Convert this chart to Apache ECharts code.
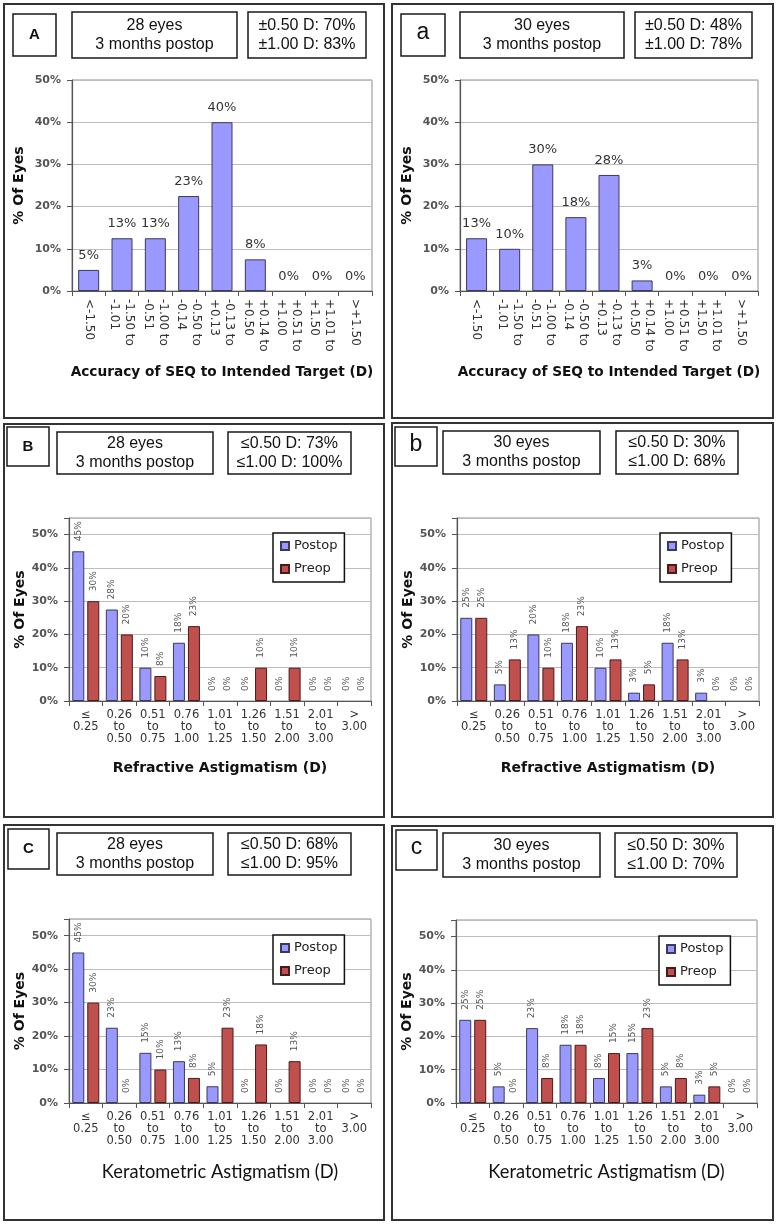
<!DOCTYPE html>
<html><head><meta charset="utf-8">
<script src="https://cdn.jsdelivr.net/npm/echarts@6.0.0/dist/echarts.min.js"></script>
<style>html,body{margin:0;padding:0;background:#fff}#c{width:777px;height:1225px}</style>
</head><body><div id="c"></div><script>
// ---- data ----
const seqCategories = ['<-1.50','-1.50 to\n-1.01','-1.00 to\n-0.51','-0.50 to\n-0.14','-0.13 to\n+0.13','+0.14 to\n+0.50','+0.51 to\n+1.00','+1.01 to\n+1.50','>+1.50'];
const seqA = [5,12.5,12.5,22.5,40,7.5,0,0,0];
const seqa = [12.5,10,30,17.5,27.5,2.5,0,0,0];
const astCategories = ['≤\n0.25','0.26\nto\n0.50','0.51\nto\n0.75','0.76\nto\n1.00','1.01\nto\n1.25','1.26\nto\n1.50','1.51\nto\n2.00','2.01\nto\n3.00','>\n3.00'];
const refBPostop = [45,27.5,10,17.5,0,0,0,0,0];
const refBPreop  = [30,20,7.5,22.5,0,10,10,0,0];
const refbPostop = [25,5,20,17.5,10,2.5,17.5,2.5,0];
const refbPreop  = [25,12.5,10,22.5,12.5,5,12.5,0,0];
const kerCPostop = [45,22.5,15,12.5,5,0,0,0,0];
const kerCPreop  = [30,0,10,7.5,22.5,17.5,12.5,0,0];
const kercPostop = [25,5,22.5,17.5,7.5,15,5,2.5,0];
const kercPreop  = [25,0,7.5,17.5,15,22.5,7.5,5,0];
const seriesNames = ['Postop','Preop'];
const panelLetters = ['A','a','B','b','C','c'];
const eyeTexts = ['28 eyes\n3 months postop','30 eyes\n3 months postop','28 eyes\n3 months postop','30 eyes\n3 months postop','28 eyes\n3 months postop','30 eyes\n3 months postop'];
const accTexts = ['±0.50 D: 70%\n±1.00 D: 83%','±0.50 D: 48%\n±1.00 D: 78%','≤0.50 D: 73%\n≤1.00 D: 100%','≤0.50 D: 30%\n≤1.00 D: 68%','≤0.50 D: 68%\n≤1.00 D: 95%','≤0.50 D: 30%\n≤1.00 D: 70%'];
const xTitles = ['Accuracy of SEQ to Intended Target (D)','Accuracy of SEQ to Intended Target (D)','Refractive Astigmatism (D)','Refractive Astigmatism (D)','Keratometric Astigmatism (D)','Keratometric Astigmatism (D)'];
const yTitle = '% Of Eyes';

// ---- layout ----
const COL_POST = '#9999FF', COL_PRE = '#C0504D';
const layout = [
  {outer:[4,4,380,414], letter:[13,14,43,42], mid:[72,12,165,46], acc:[248,12,118,46], grid:[72,80,300,211], ymax:50, legend:null},
  {outer:[392,4,381,414], letter:[401,14,44,42], mid:[460,12,164,46], acc:[635,12,117,46], grid:[460,80,298,211], ymax:50, legend:null},
  {outer:[4,424,380,393], letter:[7,427,42,39], mid:[57,432,156,42], acc:[228,432,123,42], grid:[69,518,302,183], ymax:55, legend:[273,533]},
  {outer:[392,423,381,394], letter:[395,427,42,39], mid:[443,431,157,43], acc:[616,431,122,43], grid:[457,518,302,183], ymax:55, legend:[660,533]},
  {outer:[4,825,380,395], letter:[8,829,41,40], mid:[57,833,156,42], acc:[228,833,123,42], grid:[69,919,302,184], ymax:55, legend:[273,935]},
  {outer:[392,826,381,394], letter:[396,830,41,40], mid:[443,833,157,44], acc:[615,833,122,44], grid:[456,920,301,183], ymax:55, legend:[659,936]}
];
const panelData = [
  {cats:seqCategories, vals:[seqA]},
  {cats:seqCategories, vals:[seqa]},
  {cats:astCategories, vals:[refBPostop, refBPreop]},
  {cats:astCategories, vals:[refbPostop, refbPreop]},
  {cats:astCategories, vals:[kerCPostop, kerCPreop]},
  {cats:astCategories, vals:[kercPostop, kercPreop]}
];

const grids=[], xAxes=[], yAxes=[], series=[], legends=[], graphics=[];
const F = 'DejaVu Sans';
panelData.forEach((pd, i) => {
  const L = layout[i];
  const seqType = i < 2;
  const kerType = i >= 4;
  grids.push({left:L.grid[0], top:L.grid[1], width:L.grid[2], height:L.grid[3], show:true, borderColor:'#8c8c8c', borderWidth:1});
  xAxes.push({
    type:'category', gridIndex:i, data:pd.cats,
    axisLine:{lineStyle:{color:'#555', width:1.2}},
    axisTick:{show:true, length:5, lineStyle:{color:'#555'}},
    axisLabel:{interval:0, rotate: seqType ? -90 : 0, margin: 8,
      fontFamily:F, fontSize: seqType ? 12 : 11.5, lineHeight: seqType ? 15 : 12, color:'#333'},
    name: xTitles[i], nameLocation:'middle', nameGap: seqType ? 74 : 60,
    nameTextStyle: kerType ? {fontFamily:'Lato', fontSize:18.3, color:'#111'} : {fontFamily:F, fontWeight:'bold', fontSize: seqType ? 13.7 : 14, color:'#111'}
  });
  yAxes.push({
    type:'value', gridIndex:i, min:0, max:L.ymax, interval:10,
    axisLine:{show:true, lineStyle:{color:'#555', width:1.2}},
    axisTick:{show:true, length:5, lineStyle:{color:'#555'}},
    splitLine:{lineStyle:{color:'#bdbdbd'}},
    axisLabel:{fontFamily:F, fontWeight:'bold', fontSize:11, color:'#555', margin:11,
      formatter: v => v > 50 ? '' : v + '%'},
    name: yTitle, nameLocation:'middle', nameGap: seqType ? 46 : 42,
    nameTextStyle:{fontFamily:F, fontWeight:'bold', fontSize:14, color:'#111'}
  });
  pd.vals.forEach((vals, k) => {
    const s = {
      type:'bar', name: seriesNames[k], xAxisIndex:i, yAxisIndex:i,
      data: vals.map(v => v === 0 ? {value:v, itemStyle:{borderWidth:0, borderColor:'rgba(0,0,0,0)'}} : v),
      itemStyle:{color: k === 0 ? COL_POST : COL_PRE, borderColor: k === 0 ? '#3a3a5a' : '#4a1a1a', borderWidth:1},
      animation:false
    };
    if (seqType) {
      s.barWidth = 21;
      s.label = {show:true, position:'top', distance:8, fontFamily:F, fontSize:13, color:'#333',
        formatter: p => Math.round(p.value) + '%'};
    } else {
      s.barWidth = 12; s.barGap = '25%';
      s.label = {show:true, position:'top', distance:10, rotate:90, align:'left', verticalAlign:'middle',
        fontFamily:F, fontSize:9, color:'#555', formatter: p => Math.round(p.value) + '%'};
    }
    series.push(s);
  });
  if (L.legend) {
    legends.push({left:L.legend[0], top:L.legend[1], orient:'vertical', data:seriesNames.slice(),
      icon:'rect', itemWidth:8, itemHeight:8, itemGap:9, padding:[6,7,6,7],
      borderColor:'#111', borderWidth:1.5, backgroundColor:'#fff',
      textStyle:{fontFamily:F, fontSize:13, color:'#222', lineHeight:14}, selectedMode:false});
  }
  // panel frame and header boxes
  graphics.push({type:'rect', shape:{x:L.outer[0], y:L.outer[1], width:L.outer[2], height:L.outer[3]},
    style:{fill:'none', stroke:'#333', lineWidth:2}, z:-10});
  [L.letter, L.mid, L.acc].forEach(b => graphics.push({type:'rect', shape:{x:b[0], y:b[1], width:b[2], height:b[3]},
    style:{fill:'#fff', stroke:'#1a1a1a', lineWidth:1.5}}));
  const upper = panelLetters[i] === panelLetters[i].toUpperCase();
  graphics.push({type:'text', x:L.letter[0]+L.letter[2]/2, y:L.letter[1]+L.letter[3]/2 + (upper?0:-2),
    style:{text:panelLetters[i], fontFamily:'Liberation Sans', fontWeight: upper?'bold':'normal', fontSize: upper?15:23,
      fill:'#111', align:'center', verticalAlign:'middle'}, z:10});
  graphics.push({type:'text', x:L.mid[0]+L.mid[2]/2, y:L.mid[1]+L.mid[3]/2,
    style:{text:eyeTexts[i], fontFamily:'Liberation Sans', fontSize:16, lineHeight:19, fill:'#111', align:'center', verticalAlign:'middle'}, z:10});
  graphics.push({type:'text', x:L.acc[0]+L.acc[2]/2, y:L.acc[1]+L.acc[3]/2,
    style:{text:accTexts[i], fontFamily:'Liberation Sans', fontSize:16, lineHeight:19, fill:'#111', align:'center', verticalAlign:'middle'}, z:10});
});

const chart = echarts.init(document.getElementById('c'), null, {renderer:'canvas', width:777, height:1225});
chart.setOption({
  backgroundColor:'#fff', animation:false,
  grid:grids, xAxis:xAxes, yAxis:yAxes, series:series, legend:legends, graphic:graphics
});
</script></body></html>
